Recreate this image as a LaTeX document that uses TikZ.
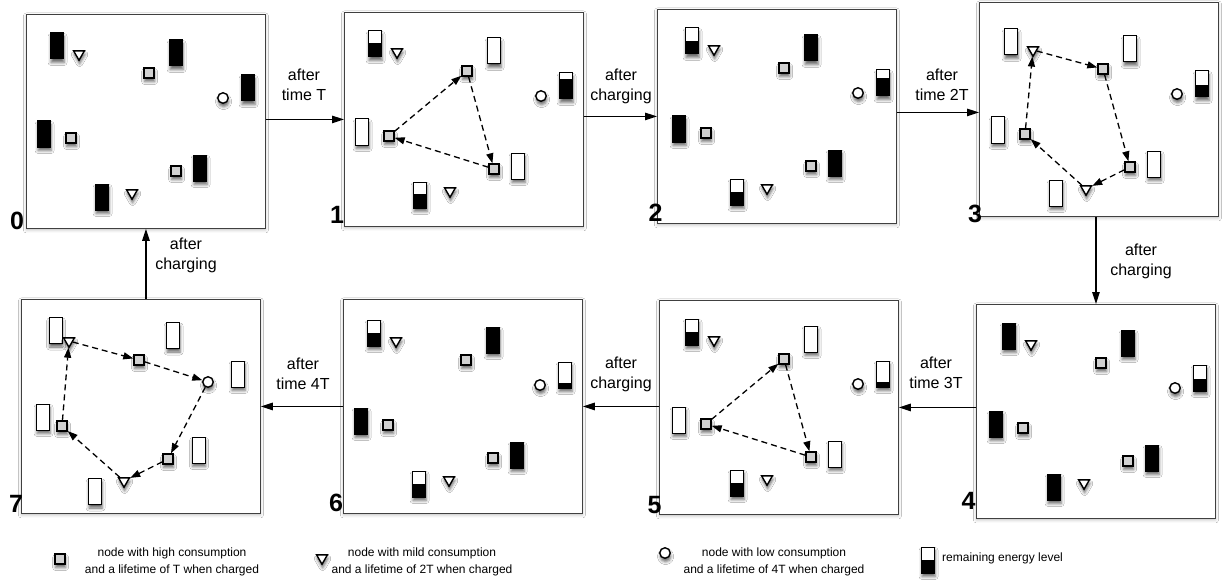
\documentclass[tikz,border=0pt]{standalone}
\usepackage{fontspec}
\setmainfont{Liberation Sans}
\usetikzlibrary{arrows.meta,shapes.geometric,shadows.blur,calc}

\tikzset{
  shd/.style={blur shadow={shadow xshift=0.6pt, shadow yshift=-3.5pt, shadow blur radius=3pt, shadow opacity=60}},
  panel/.style={draw=black!75, line width=0.9pt, fill=white, anchor=north west, minimum width=239pt, minimum height=214pt, inner sep=0, blur shadow={shadow xshift=0pt, shadow yshift=-1.5pt, shadow blur radius=3pt, shadow opacity=25}},
  sq/.style={draw, line width=1.4pt, fill=black!18, minimum size=10pt, inner sep=0, shd},
  tri/.style={regular polygon, regular polygon sides=3, shape border rotate=180, draw, line width=1.4pt, fill=white, minimum size=12.5pt, inner sep=0, shd},
  cir/.style={circle, draw, line width=1.4pt, fill=white, minimum size=10.5pt, inner sep=0, shd},
  bat/.style={draw, line width=1pt, fill=white, minimum width=13pt, minimum height=26pt, inner sep=0, outer sep=0, shd},
  cyc/.style={dash pattern=on 6pt off 4pt, line width=1.3pt, -{Triangle[length=10pt,width=7pt]}},
  flow/.style={line width=1.3pt, -{Triangle[length=12pt,width=7.5pt]}},
  lbl/.style={align=center, font=\fontsize{16}{20}\selectfont, inner sep=0},
  num/.style={font=\fontsize{25}{25}\selectfont\bfseries, inner sep=0},
  leg/.style={align=center, font=\fontsize{12}{17}\selectfont, inner sep=0},
}

\newcommand\batt[4]{%
  \node[bat] (#1) at (#2,#3) {};
  \fill (#1.south west) rectangle ([yshift={#4*26pt}]#1.south east);
  \draw[line width=1pt] (#1.south west) rectangle (#1.north east);
}

\newcommand\panellayout[7]{%
  \batt{#1b1}{31}{32}{#2}
  \batt{#1b2}{150}{39}{#3}
  \batt{#1b3}{222}{74}{#4}
  \batt{#1b4}{18}{120}{#5}
  \batt{#1b5}{174}{154}{#6}
  \batt{#1b6}{76}{183}{#7}
  \node[sq] (#1s1) at (123,59) {};
  \node[sq] (#1s2) at (45,124) {};
  \node[sq] (#1s3) at (150,157) {};
  \node[tri] (#1t1) at (53,40) {};
  \node[tri] (#1t2) at (106,179) {};
  \node[cir] (#1c) at (197,84) {};
}

\begin{document}
\begin{tikzpicture}[x=1pt,y=-1pt]
\useasboundingbox (0,0) rectangle (1225,583);
\fill[white] (0,0) rectangle (1225,583);

% panels
\node[panel] (p0) at (26,14) {};
\node[panel] (p1) at (344,12) {};
\node[panel] (p2) at (657,9) {};
\node[panel] (p3) at (979,2) {};
\node[panel] (p4) at (976,304) {};
\node[panel] (p5) at (659,300) {};
\node[panel] (p6) at (343,299) {};
\node[panel] (p7) at (21,299) {};

% panel contents
\begin{scope}[shift={(26,14)}]
  \panellayout{p0}{1}{1}{1}{1}{1}{1}
\end{scope}
\begin{scope}[shift={(344,12)}]
  \panellayout{p1}{0.55}{0}{0.75}{0}{0}{0.55}
\end{scope}
\begin{scope}[shift={(661,9)}]
  \panellayout{p2}{0.5}{1}{0.7}{1}{1}{0.5}
\end{scope}
\begin{scope}[shift={(980,10)}]
  \panellayout{p3}{0}{0}{0.45}{0}{0}{0}
\end{scope}
\begin{scope}[shift={(978,304)}]
  \panellayout{p4}{1}{1}{0.45}{1}{1}{1}
\end{scope}
\begin{scope}[shift={(661,300)}]
  \panellayout{p5}{0.5}{0}{0.2}{0}{0}{0.5}
\end{scope}
\begin{scope}[shift={(343,301)}]
  \panellayout{p6}{0.5}{1}{0.2}{1}{1}{0.5}
\end{scope}
\begin{scope}[shift={(21,299)}]
  \batt{p7b1}{34.5}{31.5}{0}
  \batt{p7b2}{152}{36.5}{0}
  \batt{p7b3}{217}{75}{0}
  \batt{p7b4}{22}{118}{0}
  \batt{p7b5}{177.5}{151}{0}
  \batt{p7b6}{74}{192.5}{0}
  \node[sq] (p7s1) at (118,61) {};
  \node[sq] (p7s2) at (41,127) {};
  \node[sq] (p7s3) at (147,160) {};
  \node[tri] (p7t1) at (48,42) {};
  \node[tri] (p7t2) at (103,182) {};
  \node[cir] (p7c) at (187,83) {};
\end{scope}

% charging tours
\draw[cyc] (p1s2) -- (p1s1);
\draw[cyc] (p1s1) -- (p1s3);
\draw[cyc] (p1s3) -- (p1s2);

\draw[cyc] (p3t1) -- (p3s1);
\draw[cyc] (p3s1) -- (p3s3);
\draw[cyc] (p3s3) -- (p3t2);
\draw[cyc] (p3t2) -- (p3s2);
\draw[cyc] (p3s2) -- (p3t1);

\draw[cyc] (p5s2) -- (p5s1);
\draw[cyc] (p5s1) -- (p5s3);
\draw[cyc] (p5s3) -- (p5s2);

\draw[cyc] (p7t1) -- (p7s1);
\draw[cyc] (p7s1) -- (p7c);
\draw[cyc] (p7c) -- (p7s3);
\draw[cyc] (p7s3) -- (p7t2);
\draw[cyc] (p7t2) -- (p7s2);
\draw[cyc] (p7s2) -- (p7t1);

% transitions
\draw[flow] (p0.east |- p1.west) -- (p1.west);
\draw[flow] (p1.east |- p2.west) -- (p2.west);
\draw[flow] ([yshift=-3pt]p2.east |- p3.west) -- ([yshift=-3pt]p3.west);
\draw[flow] (p3.south -| p4.north) -- (p4.north);
\draw[flow] (p4.west |- p5.east) -- (p5.east);
\draw[flow] (p5.west |- p6.east) -- (p6.east);
\draw[flow] (p6.west |- p7.east) -- (p7.east);
\draw[flow] (p7.north -| p0.south) -- (p0.south);

\node[lbl] (l01) at (304,85) {after\\time T};
\node[lbl] (l12) at (621,86) {after\\charging};
\node[lbl] (l23) at (942,85) {after\\time 2T};
\node[lbl] (l34) at (1141,261) {after\\charging};
\node[lbl] (l45) at (936,373) {after\\time 3T};
\node[lbl] (l56) at (621,374) {after\\charging};
\node[lbl] (l67) at (303,374) {after\\time 4T};
\node[lbl] (l70) at (186,255) {after\\charging};

% panel numbers
\node[num] (n0) at (17,221) {0};
\node[num] (n1) at (337,215) {1};
\node[num] (n2) at (655.5,213) {2};
\node[num] (n3) at (975,214) {3};
\node[num] (n4) at (968.5,501) {4};
\node[num] (n5) at (654.5,505) {5};
\node[num] (n6) at (336,503) {6};
\node[num] (n7) at (16,503.5) {7};

% legend
\node[sq] (lgs) at (60,559) {};
\node[leg] (lgst) at (172,561.5) {node with high consumption\\and a lifetime of T when charged};
\node[tri] (lgt) at (322,558) {};
\node[leg] (lgtt) at (422,561.5) {node with mild consumption\\and a lifetime of 2T when charged};
\node[cir] (lgc) at (665,553) {};
\node[leg] (lgct) at (774,561.5) {node with low consumption\\and a lifetime of 4T when charged};
\batt{lgb}{928}{560}{0.5}
\node[leg, anchor=west] (lgbt) at (942,558) {remaining energy level};
\end{tikzpicture}
\end{document}
